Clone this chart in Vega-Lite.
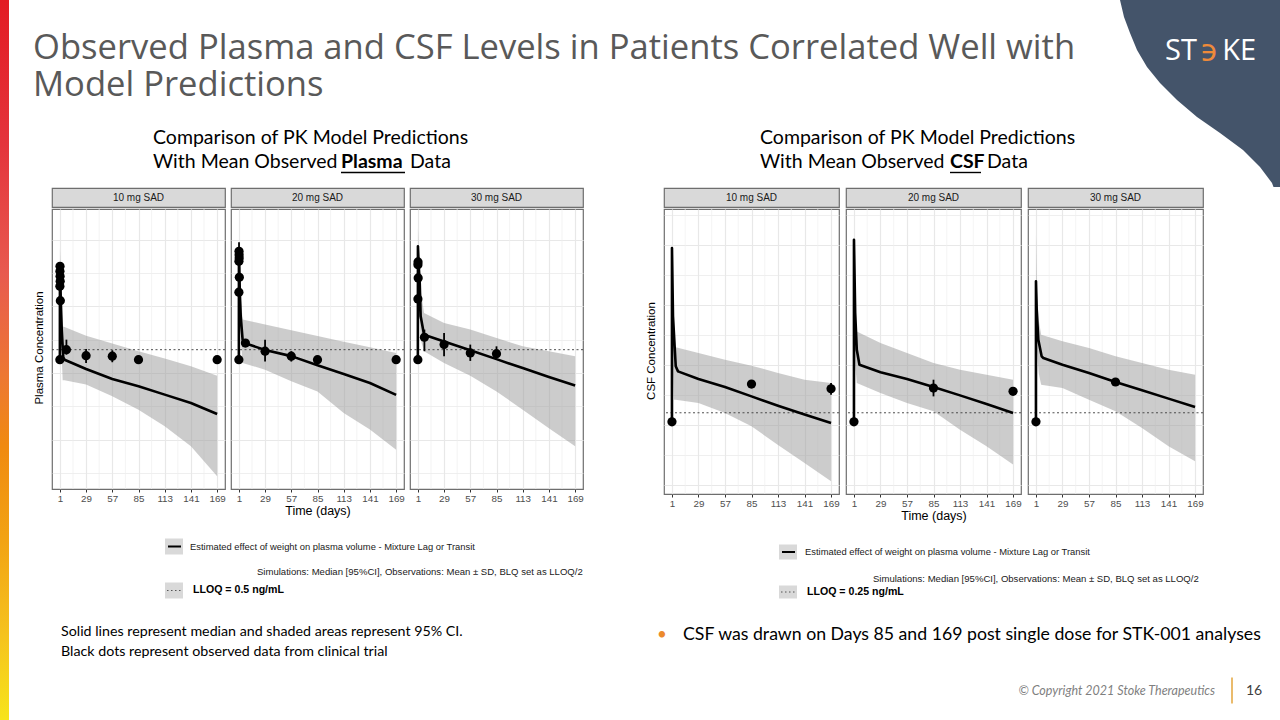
{
"$schema": "https://vega.github.io/schema/vega-lite/v6.json",
"padding": 0,
"background": "white",
"spacing": 0,
"config": {
  "view": {"stroke": null},
  "font": "Liberation Sans",
  "axis": {"labelFont": "Liberation Sans", "titleFont": "Liberation Sans", "titleFontWeight": "normal", "titleColor": "#000000", "labelColor": "#4d4d4d", "labelFontSize": 9.8, "titleFontSize": 12.5, "domain": false, "tickColor": "#333333", "tickSize": 3, "tickWidth": 1, "gridColor": "#e8e8e8", "gridWidth": 1.2, "labelOverlap": false, "labelSeparation": -40, "labelFlush": false, "labelPadding": 1, "titlePadding": 2}
},
"datasets": {
  "xminor": [{"day": 15}, {"day": 43}, {"day": 71}, {"day": 99}, {"day": 127}, {"day": 155}],
  "pmed": [
    {"panel": "10 mg SAD", "day": 1.0, "conc": 0.25}, {"panel": "10 mg SAD", "day": 1.08, "conc": 160}, {"panel": "10 mg SAD", "day": 1.5, "conc": 60}, {"panel": "10 mg SAD", "day": 2, "conc": 15}, {"panel": "10 mg SAD", "day": 3, "conc": 2}, {"panel": "10 mg SAD", "day": 4.6, "conc": 0.3}, {"panel": "10 mg SAD", "day": 6, "conc": 0.25}, {"panel": "10 mg SAD", "day": 29, "conc": 0.132}, {"panel": "10 mg SAD", "day": 57, "conc": 0.066}, {"panel": "10 mg SAD", "day": 85, "conc": 0.04}, {"panel": "10 mg SAD", "day": 113, "conc": 0.0224}, {"panel": "10 mg SAD", "day": 141, "conc": 0.0126}, {"panel": "10 mg SAD", "day": 169, "conc": 0.0059},
    {"panel": "20 mg SAD", "day": 1.0, "conc": 0.25}, {"panel": "20 mg SAD", "day": 1.08, "conc": 450}, {"panel": "20 mg SAD", "day": 1.5, "conc": 150}, {"panel": "20 mg SAD", "day": 2, "conc": 27}, {"panel": "20 mg SAD", "day": 3, "conc": 5}, {"panel": "20 mg SAD", "day": 5, "conc": 1.0}, {"panel": "20 mg SAD", "day": 7, "conc": 0.79}, {"panel": "20 mg SAD", "day": 29, "conc": 0.49}, {"panel": "20 mg SAD", "day": 57, "conc": 0.32}, {"panel": "20 mg SAD", "day": 85, "conc": 0.17}, {"panel": "20 mg SAD", "day": 113, "conc": 0.093}, {"panel": "20 mg SAD", "day": 141, "conc": 0.05}, {"panel": "20 mg SAD", "day": 169, "conc": 0.022},
    {"panel": "30 mg SAD", "day": 1.0, "conc": 0.25}, {"panel": "30 mg SAD", "day": 1.08, "conc": 630}, {"panel": "30 mg SAD", "day": 2, "conc": 150}, {"panel": "30 mg SAD", "day": 3, "conc": 50}, {"panel": "30 mg SAD", "day": 4, "conc": 5}, {"panel": "30 mg SAD", "day": 7.6, "conc": 1.41}, {"panel": "30 mg SAD", "day": 29, "conc": 0.88}, {"panel": "30 mg SAD", "day": 57, "conc": 0.48}, {"panel": "30 mg SAD", "day": 85, "conc": 0.26}, {"panel": "30 mg SAD", "day": 113, "conc": 0.14}, {"panel": "30 mg SAD", "day": 141, "conc": 0.076}, {"panel": "30 mg SAD", "day": 169, "conc": 0.042}
  ],
  "pband": [
    {"panel": "10 mg SAD", "day": 1.0, "lo": 0.2, "hi": 0.3}, {"panel": "10 mg SAD", "day": 1.08, "lo": 30, "hi": 562}, {"panel": "10 mg SAD", "day": 2, "lo": 3, "hi": 60}, {"panel": "10 mg SAD", "day": 3, "lo": 0.3, "hi": 8}, {"panel": "10 mg SAD", "day": 4, "lo": 0.06, "hi": 2.5}, {"panel": "10 mg SAD", "day": 6, "lo": 0.06, "hi": 2.4}, {"panel": "10 mg SAD", "day": 29, "lo": 0.045, "hi": 1.32}, {"panel": "10 mg SAD", "day": 57, "lo": 0.02, "hi": 0.76}, {"panel": "10 mg SAD", "day": 85, "lo": 0.0079, "hi": 0.45}, {"panel": "10 mg SAD", "day": 113, "lo": 0.0025, "hi": 0.27}, {"panel": "10 mg SAD", "day": 141, "lo": 0.00063, "hi": 0.16}, {"panel": "10 mg SAD", "day": 169, "lo": 0.000079, "hi": 0.083},
    {"panel": "20 mg SAD", "day": 1.0, "lo": 0.2, "hi": 0.3}, {"panel": "20 mg SAD", "day": 1.08, "lo": 60, "hi": 900}, {"panel": "20 mg SAD", "day": 2, "lo": 8, "hi": 100}, {"panel": "20 mg SAD", "day": 3, "lo": 1, "hi": 20}, {"panel": "20 mg SAD", "day": 5, "lo": 0.2, "hi": 4.0}, {"panel": "20 mg SAD", "day": 29, "lo": 0.126, "hi": 2.84}, {"panel": "20 mg SAD", "day": 57, "lo": 0.056, "hi": 1.91}, {"panel": "20 mg SAD", "day": 85, "lo": 0.028, "hi": 1.29}, {"panel": "20 mg SAD", "day": 113, "lo": 0.0063, "hi": 0.87}, {"panel": "20 mg SAD", "day": 141, "lo": 0.002, "hi": 0.59}, {"panel": "20 mg SAD", "day": 169, "lo": 0.0005, "hi": 0.4},
    {"panel": "30 mg SAD", "day": 1.0, "lo": 0.2, "hi": 0.3}, {"panel": "30 mg SAD", "day": 1.08, "lo": 100, "hi": 2240}, {"panel": "30 mg SAD", "day": 2, "lo": 15, "hi": 300}, {"panel": "30 mg SAD", "day": 4, "lo": 1, "hi": 30}, {"panel": "30 mg SAD", "day": 7.6, "lo": 0.45, "hi": 6.3}, {"panel": "30 mg SAD", "day": 29, "lo": 0.2, "hi": 3.16}, {"panel": "30 mg SAD", "day": 57, "lo": 0.083, "hi": 2.0}, {"panel": "30 mg SAD", "day": 85, "lo": 0.028, "hi": 1.12}, {"panel": "30 mg SAD", "day": 113, "lo": 0.0079, "hi": 0.63}, {"panel": "30 mg SAD", "day": 141, "lo": 0.0022, "hi": 0.45}, {"panel": "30 mg SAD", "day": 169, "lo": 0.00063, "hi": 0.32}
  ],
  "pobs": [
    {"panel": "10 mg SAD", "day": 1.0, "conc": 0.25}, {"panel": "10 mg SAD", "day": 1.04, "conc": 40}, {"panel": "10 mg SAD", "day": 1.08, "conc": 112}, {"panel": "10 mg SAD", "day": 1.17, "conc": 159}, {"panel": "10 mg SAD", "day": 1.25, "conc": 79.7}, {"panel": "10 mg SAD", "day": 1.33, "conc": 56.4}, {"panel": "10 mg SAD", "day": 1.5, "conc": 14.8}, {"panel": "10 mg SAD", "day": 8, "conc": 0.5, "lo": 0.355, "hi": 1.0}, {"panel": "10 mg SAD", "day": 29, "conc": 0.33, "lo": 0.2, "hi": 0.526}, {"panel": "10 mg SAD", "day": 57, "conc": 0.32, "lo": 0.21, "hi": 0.48}, {"panel": "10 mg SAD", "day": 85, "conc": 0.25}, {"panel": "10 mg SAD", "day": 169, "conc": 0.25},
    {"panel": "20 mg SAD", "day": 1.0, "conc": 0.25}, {"panel": "20 mg SAD", "day": 1.04, "conc": 26.5}, {"panel": "20 mg SAD", "day": 1.08, "conc": 224}, {"panel": "20 mg SAD", "day": 1.17, "conc": 447, "lo": 240, "hi": 840}, {"panel": "20 mg SAD", "day": 1.25, "conc": 355}, {"panel": "20 mg SAD", "day": 1.33, "conc": 282}, {"panel": "20 mg SAD", "day": 1.5, "conc": 74}, {"panel": "20 mg SAD", "day": 8, "conc": 0.79}, {"panel": "20 mg SAD", "day": 29, "conc": 0.45, "lo": 0.22, "hi": 1.0}, {"panel": "20 mg SAD", "day": 57, "conc": 0.32, "lo": 0.22, "hi": 0.45}, {"panel": "20 mg SAD", "day": 85, "conc": 0.25}, {"panel": "20 mg SAD", "day": 169, "conc": 0.25},
    {"panel": "30 mg SAD", "day": 1.0, "conc": 0.25}, {"panel": "30 mg SAD", "day": 1.04, "conc": 16.6}, {"panel": "30 mg SAD", "day": 1.08, "conc": 178}, {"panel": "30 mg SAD", "day": 1.17, "conc": 215, "lo": 60, "hi": 631}, {"panel": "30 mg SAD", "day": 1.33, "conc": 71}, {"panel": "30 mg SAD", "day": 8, "conc": 1.18, "lo": 0.45, "hi": 2.0}, {"panel": "30 mg SAD", "day": 29, "conc": 0.71, "lo": 0.32, "hi": 1.59}, {"panel": "30 mg SAD", "day": 57, "conc": 0.4, "lo": 0.23, "hi": 0.71}, {"panel": "30 mg SAD", "day": 85, "conc": 0.38, "lo": 0.28, "hi": 0.63}
  ],
  "cmed": [
    {"panel": "10 mg SAD", "day": 1.0, "conc": 0.125}, {"panel": "10 mg SAD", "day": 1.02, "conc": 77600}, {"panel": "10 mg SAD", "day": 2.1, "conc": 410}, {"panel": "10 mg SAD", "day": 5, "conc": 8.9}, {"panel": "10 mg SAD", "day": 7.4, "conc": 6.0}, {"panel": "10 mg SAD", "day": 29, "conc": 3.33}, {"panel": "10 mg SAD", "day": 57, "conc": 1.8}, {"panel": "10 mg SAD", "day": 85, "conc": 0.88}, {"panel": "10 mg SAD", "day": 113, "conc": 0.43}, {"panel": "10 mg SAD", "day": 141, "conc": 0.22}, {"panel": "10 mg SAD", "day": 169, "conc": 0.114},
    {"panel": "20 mg SAD", "day": 1.0, "conc": 0.125}, {"panel": "20 mg SAD", "day": 1.02, "conc": 147000}, {"panel": "20 mg SAD", "day": 2.3, "conc": 525}, {"panel": "20 mg SAD", "day": 4, "conc": 31.6}, {"panel": "20 mg SAD", "day": 6.8, "conc": 10}, {"panel": "20 mg SAD", "day": 29, "conc": 5.6}, {"panel": "20 mg SAD", "day": 57, "conc": 3.33}, {"panel": "20 mg SAD", "day": 85, "conc": 1.8}, {"panel": "20 mg SAD", "day": 113, "conc": 0.95}, {"panel": "20 mg SAD", "day": 141, "conc": 0.49}, {"panel": "20 mg SAD", "day": 169, "conc": 0.245},
    {"panel": "30 mg SAD", "day": 1.0, "conc": 0.125}, {"panel": "30 mg SAD", "day": 1.02, "conc": 6000}, {"panel": "30 mg SAD", "day": 1.8, "conc": 680}, {"panel": "30 mg SAD", "day": 3.5, "conc": 68}, {"panel": "30 mg SAD", "day": 7, "conc": 19}, {"panel": "30 mg SAD", "day": 8.8, "conc": 16.7}, {"panel": "30 mg SAD", "day": 29, "conc": 10}, {"panel": "30 mg SAD", "day": 57, "conc": 5.3}, {"panel": "30 mg SAD", "day": 85, "conc": 2.65}, {"panel": "30 mg SAD", "day": 113, "conc": 1.4}, {"panel": "30 mg SAD", "day": 141, "conc": 0.74}, {"panel": "30 mg SAD", "day": 169, "conc": 0.39}
  ],
  "cband": [
    {"panel": "10 mg SAD", "day": 1.0, "lo": 0.12, "hi": 0.13}, {"panel": "10 mg SAD", "day": 1.3, "lo": 50, "hi": 500}, {"panel": "10 mg SAD", "day": 2.1, "lo": 5, "hi": 100}, {"panel": "10 mg SAD", "day": 3.2, "lo": 0.68, "hi": 41}, {"panel": "10 mg SAD", "day": 5, "lo": 0.68, "hi": 38}, {"panel": "10 mg SAD", "day": 29, "lo": 0.53, "hi": 24.5}, {"panel": "10 mg SAD", "day": 57, "lo": 0.245, "hi": 14.7}, {"panel": "10 mg SAD", "day": 85, "lo": 0.089, "hi": 9.3}, {"panel": "10 mg SAD", "day": 113, "lo": 0.021, "hi": 5.3}, {"panel": "10 mg SAD", "day": 141, "lo": 0.0053, "hi": 3.16}, {"panel": "10 mg SAD", "day": 169, "lo": 0.0013, "hi": 2.45},
    {"panel": "20 mg SAD", "day": 1.0, "lo": 0.12, "hi": 0.13}, {"panel": "20 mg SAD", "day": 1.3, "lo": 200, "hi": 2000}, {"panel": "20 mg SAD", "day": 2.3, "lo": 10, "hi": 400}, {"panel": "20 mg SAD", "day": 4, "lo": 2.45, "hi": 129}, {"panel": "20 mg SAD", "day": 29, "lo": 1.14, "hi": 53}, {"panel": "20 mg SAD", "day": 57, "lo": 0.53, "hi": 24.5}, {"panel": "20 mg SAD", "day": 85, "lo": 0.28, "hi": 11.4}, {"panel": "20 mg SAD", "day": 113, "lo": 0.068, "hi": 6.8}, {"panel": "20 mg SAD", "day": 141, "lo": 0.019, "hi": 4.6}, {"panel": "20 mg SAD", "day": 169, "lo": 0.0047, "hi": 3.16},
    {"panel": "30 mg SAD", "day": 1.0, "lo": 0.12, "hi": 0.13}, {"panel": "30 mg SAD", "day": 1.02, "lo": 300, "hi": 214000}, {"panel": "30 mg SAD", "day": 2, "lo": 30, "hi": 3000}, {"panel": "30 mg SAD", "day": 4, "lo": 5, "hi": 300}, {"panel": "30 mg SAD", "day": 6.5, "lo": 2.15, "hi": 100}, {"panel": "30 mg SAD", "day": 29, "lo": 1.67, "hi": 60}, {"panel": "30 mg SAD", "day": 57, "lo": 0.68, "hi": 36}, {"panel": "30 mg SAD", "day": 85, "lo": 0.28, "hi": 19}, {"panel": "30 mg SAD", "day": 113, "lo": 0.078, "hi": 11.4}, {"panel": "30 mg SAD", "day": 141, "lo": 0.019, "hi": 6.8}, {"panel": "30 mg SAD", "day": 169, "lo": 0.006, "hi": 4.6}
  ],
  "cobs": [
    {"panel": "10 mg SAD", "day": 1.0, "conc": 0.125}, {"panel": "10 mg SAD", "day": 85, "conc": 2.27}, {"panel": "10 mg SAD", "day": 169, "conc": 1.58, "lo": 1.0, "hi": 2.45},
    {"panel": "20 mg SAD", "day": 1.0, "conc": 0.125}, {"panel": "20 mg SAD", "day": 85, "conc": 1.67, "lo": 0.88, "hi": 3.16}, {"panel": "20 mg SAD", "day": 169, "conc": 1.3},
    {"panel": "30 mg SAD", "day": 1.0, "conc": 0.125}, {"panel": "30 mg SAD", "day": 85, "conc": 2.65}
  ]
},
"hconcat": [
  {
    "width": 9, "height": 720,
    "data": {"values": [{"part": "accent bar"}]},
    "mark": {"type": "rect", "color": {"gradient": "linear", "x1": 0, "y1": 0, "x2": 0, "y2": 1, "stops": [{"offset": 0, "color": "#e31b23"}, {"offset": 0.2, "color": "#e4343c"}, {"offset": 0.38, "color": "#e85a4f"}, {"offset": 0.52, "color": "#ed7733"}, {"offset": 0.62, "color": "#f08a10"}, {"offset": 0.75, "color": "#f2a313"}, {"offset": 0.88, "color": "#f5c21e"}, {"offset": 1, "color": "#f7e41b"}]}},
    "encoding": {
      "x": {"datum": 0, "type": "quantitative", "scale": {"domain": [0, 1], "nice": false, "zero": false}, "axis": null},
      "x2": {"datum": 1},
      "y": {"datum": 0, "type": "quantitative", "scale": {"domain": [0, 1], "nice": false, "zero": false}, "axis": null},
      "y2": {"datum": 1}
    }
  },
  {
    "spacing": 0,
    "vconcat": [
      {
        "width": 1271, "height": 187,
        "data": {"values": [{"part": "header"}]},
        "layer": [
          {"mark": {"type": "point", "shape": "M-0.8,-1 L0.8,-1 L0.8,0.87 L0.735,0.87 L0.72,0.83 L0.6,0.67 L0.43,0.5 L0.2,0.33 L-0.03,0.17 L-0.23,0 L-0.4,-0.17 L-0.53,-0.33 L-0.63,-0.5 L-0.7,-0.67 L-0.76,-0.83 Z", "size": 40000, "filled": true, "color": "#44546a", "opacity": 1, "strokeWidth": 0},
           "encoding": {"x": {"datum": 1200, "type": "quantitative", "scale": {"domain": [9, 1280], "nice": false, "zero": false}, "axis": null}, "y": {"datum": 100, "type": "quantitative", "scale": {"domain": [187, 0], "nice": false, "zero": false}, "axis": null}}},
          {"mark": {"type": "text", "align": "left", "baseline": "alphabetic", "font": "Open Sans", "fontSize": 29, "color": "white"},
           "encoding": {"x": {"datum": 1165, "type": "quantitative", "scale": {"domain": [9, 1280], "nice": false, "zero": false}, "axis": null}, "y": {"datum": 60, "type": "quantitative", "scale": {"domain": [187, 0], "nice": false, "zero": false}, "axis": null}, "text": {"value": "ST"}}},
          {"mark": {"type": "text", "align": "center", "baseline": "alphabetic", "font": "DejaVu Sans", "fontSize": 30, "color": "#ee8a3a"},
           "encoding": {"x": {"datum": 1209, "type": "quantitative", "scale": {"domain": [9, 1280], "nice": false, "zero": false}, "axis": null}, "y": {"datum": 61, "type": "quantitative", "scale": {"domain": [187, 0], "nice": false, "zero": false}, "axis": null}, "text": {"value": "϶"}}},
          {"mark": {"type": "text", "align": "right", "baseline": "alphabetic", "font": "Open Sans", "fontSize": 29, "color": "white"},
           "encoding": {"x": {"datum": 1256, "type": "quantitative", "scale": {"domain": [9, 1280], "nice": false, "zero": false}, "axis": null}, "y": {"datum": 60, "type": "quantitative", "scale": {"domain": [187, 0], "nice": false, "zero": false}, "axis": null}, "text": {"value": "KE"}}},
          {"mark": {"type": "text", "align": "left", "baseline": "alphabetic", "font": "Open Sans", "fontSize": 34.6, "color": "#595959"},
           "encoding": {"x": {"datum": 33, "type": "quantitative", "scale": {"domain": [9, 1280], "nice": false, "zero": false}, "axis": null}, "y": {"datum": 59, "type": "quantitative", "scale": {"domain": [187, 0], "nice": false, "zero": false}, "axis": null}, "text": {"value": "Observed Plasma and CSF Levels in Patients Correlated Well with"}}},
          {"mark": {"type": "text", "align": "left", "baseline": "alphabetic", "font": "Open Sans", "fontSize": 34.6, "color": "#595959"},
           "encoding": {"x": {"datum": 33, "type": "quantitative", "scale": {"domain": [9, 1280], "nice": false, "zero": false}, "axis": null}, "y": {"datum": 96, "type": "quantitative", "scale": {"domain": [187, 0], "nice": false, "zero": false}, "axis": null}, "text": {"value": "Model Predictions"}}},
          {"mark": {"type": "text", "align": "left", "baseline": "middle", "font": "Lato", "fontSize": 19.5, "color": "#000000"},
           "encoding": {"x": {"datum": 153, "type": "quantitative", "scale": {"domain": [9, 1280], "nice": false, "zero": false}, "axis": null}, "y": {"datum": 138, "type": "quantitative", "scale": {"domain": [187, 0], "nice": false, "zero": false}, "axis": null}, "text": {"value": "Comparison of PK Model Predictions"}}},
          {"mark": {"type": "text", "align": "left", "baseline": "middle", "font": "Lato", "fontSize": 19.5, "color": "#000000"},
           "encoding": {"x": {"datum": 153, "type": "quantitative", "scale": {"domain": [9, 1280], "nice": false, "zero": false}, "axis": null}, "y": {"datum": 162, "type": "quantitative", "scale": {"domain": [187, 0], "nice": false, "zero": false}, "axis": null}, "text": {"value": "With Mean Observed"}}},
          {"mark": {"type": "text", "align": "left", "baseline": "middle", "font": "Lato", "fontSize": 19.5, "fontWeight": "bold", "color": "#000000"},
           "encoding": {"x": {"datum": 341, "type": "quantitative", "scale": {"domain": [9, 1280], "nice": false, "zero": false}, "axis": null}, "y": {"datum": 162, "type": "quantitative", "scale": {"domain": [187, 0], "nice": false, "zero": false}, "axis": null}, "text": {"value": "Plasma"}}},
          {"mark": {"type": "text", "align": "left", "baseline": "middle", "font": "Lato", "fontSize": 19.5, "color": "#000000"},
           "encoding": {"x": {"datum": 410, "type": "quantitative", "scale": {"domain": [9, 1280], "nice": false, "zero": false}, "axis": null}, "y": {"datum": 162, "type": "quantitative", "scale": {"domain": [187, 0], "nice": false, "zero": false}, "axis": null}, "text": {"value": "Data"}}},
          {"mark": {"type": "rule", "color": "#000000", "strokeWidth": 1.4},
           "encoding": {"x": {"datum": 341, "type": "quantitative", "scale": {"domain": [9, 1280], "nice": false, "zero": false}, "axis": null}, "x2": {"datum": 405}, "y": {"datum": 172.5, "type": "quantitative", "scale": {"domain": [187, 0], "nice": false, "zero": false}, "axis": null}}},
          {"mark": {"type": "text", "align": "left", "baseline": "middle", "font": "Lato", "fontSize": 19.5, "color": "#000000"},
           "encoding": {"x": {"datum": 760, "type": "quantitative", "scale": {"domain": [9, 1280], "nice": false, "zero": false}, "axis": null}, "y": {"datum": 138, "type": "quantitative", "scale": {"domain": [187, 0], "nice": false, "zero": false}, "axis": null}, "text": {"value": "Comparison of PK Model Predictions"}}},
          {"mark": {"type": "text", "align": "left", "baseline": "middle", "font": "Lato", "fontSize": 19.5, "color": "#000000"},
           "encoding": {"x": {"datum": 760, "type": "quantitative", "scale": {"domain": [9, 1280], "nice": false, "zero": false}, "axis": null}, "y": {"datum": 162, "type": "quantitative", "scale": {"domain": [187, 0], "nice": false, "zero": false}, "axis": null}, "text": {"value": "With Mean Observed"}}},
          {"mark": {"type": "text", "align": "left", "baseline": "middle", "font": "Lato", "fontSize": 19.5, "fontWeight": "bold", "color": "#000000"},
           "encoding": {"x": {"datum": 950, "type": "quantitative", "scale": {"domain": [9, 1280], "nice": false, "zero": false}, "axis": null}, "y": {"datum": 162, "type": "quantitative", "scale": {"domain": [187, 0], "nice": false, "zero": false}, "axis": null}, "text": {"value": "CSF"}}},
          {"mark": {"type": "text", "align": "left", "baseline": "middle", "font": "Lato", "fontSize": 19.5, "color": "#000000"},
           "encoding": {"x": {"datum": 987, "type": "quantitative", "scale": {"domain": [9, 1280], "nice": false, "zero": false}, "axis": null}, "y": {"datum": 162, "type": "quantitative", "scale": {"domain": [187, 0], "nice": false, "zero": false}, "axis": null}, "text": {"value": "Data"}}},
          {"mark": {"type": "rule", "color": "#000000", "strokeWidth": 1.4},
           "encoding": {"x": {"datum": 950, "type": "quantitative", "scale": {"domain": [9, 1280], "nice": false, "zero": false}, "axis": null}, "x2": {"datum": 981}, "y": {"datum": 172.5, "type": "quantitative", "scale": {"domain": [187, 0], "nice": false, "zero": false}, "axis": null}}}
        ]
      },
      {
        "spacing": 0,
        "hconcat": [
          {"width": 41, "height": 304, "data": {"values": [{"part": "y title"}]}, "mark": {"type": "text", "angle": 270, "align": "center", "baseline": "middle", "font": "Liberation Sans", "fontSize": 11.5, "color": "#000000"},
           "encoding": {"x": {"datum": 40, "type": "quantitative", "scale": {"domain": [9, 50], "nice": false, "zero": false}, "axis": null}, "y": {"datum": 347, "type": "quantitative", "scale": {"domain": [491, 187], "nice": false, "zero": false}, "axis": null}, "text": {"value": "Plasma Concentration"}}},
          {
            "spacing": 2,
            "hconcat": [
              {"spacing": 0, "vconcat": [
                {"width": 173, "height": 19, "view": {"fill": "#d9d9d9", "stroke": "#6e6e6e", "strokeWidth": 1.2}, "data": {"values": [{"label": "10 mg SAD"}]}, "mark": {"type": "text", "font": "Liberation Sans", "fontSize": 10, "color": "#1a1a1a"}, "encoding": {"text": {"field": "label"}}},
                {"width": 173, "height": 280, "view": {"stroke": "#6e6e6e", "strokeWidth": 1.2},
                 "layer": [
                  {"data": {"name": "xminor"}, "mark": {"type": "rule", "color": "#efefef", "strokeWidth": 0.7}, "encoding": {"x": {"field": "day", "type": "quantitative", "title": null, "scale": {"domain": [-7.4, 177.4], "nice": false, "zero": false}, "axis": {"values": [1, 29, 57, 85, 113, 141, 169], "labelOverlap": false, "labelSeparation": -40}}}},
                  {"data": {"name": "pband"}, "transform": [{"filter": "datum.panel === '10 mg SAD'"}], "mark": {"type": "area", "color": "#9a9a9a", "opacity": 0.5},
                   "encoding": {"x": {"field": "day", "type": "quantitative", "title": null, "axis": {"values": [1, 29, 57, 85, 113, 141, 169], "labelOverlap": false, "labelSeparation": -40}},
                    "y": {"field": "lo", "type": "quantitative", "title": null, "scale": {"type": "log", "domain": [0.000033, 8318], "nice": false}, "axis": {"values": [0.0001, 0.001, 0.01, 0.1, 1, 10, 100, 1000], "labels": false, "ticks": false, "gridWidth": {"condition": {"test": "indexof([0.001,0.1,10,1000], datum.value) >= 0", "value": 1.2}, "value": 0.7}}},
                    "y2": {"field": "hi"}}},
                  {"data": {"values": [{"lloq": 0.5}]}, "mark": {"type": "rule", "strokeDash": [2, 2.5], "color": "#3a3a3a", "strokeWidth": 0.9}, "encoding": {"y": {"field": "lloq", "type": "quantitative", "title": null}}},
                  {"data": {"name": "pmed"}, "transform": [{"filter": "datum.panel === '10 mg SAD'"}], "mark": {"type": "line", "color": "#000000", "strokeWidth": 2.6, "strokeJoin": "round"}, "encoding": {"x": {"field": "day", "type": "quantitative", "title": null, "axis": {"values": [1, 29, 57, 85, 113, 141, 169], "labelOverlap": false, "labelSeparation": -40}}, "y": {"field": "conc", "type": "quantitative", "title": null}}},
                  {"data": {"name": "pobs"}, "transform": [{"filter": "datum.panel === '10 mg SAD' && isValid(datum.lo)"}], "mark": {"type": "rule", "color": "#000000", "strokeWidth": 1.8}, "encoding": {"x": {"field": "day", "type": "quantitative", "title": null, "axis": {"values": [1, 29, 57, 85, 113, 141, 169], "labelOverlap": false, "labelSeparation": -40}}, "y": {"field": "lo", "type": "quantitative", "title": null}, "y2": {"field": "hi"}}},
                  {"data": {"name": "pobs"}, "transform": [{"filter": "datum.panel === '10 mg SAD'"}], "mark": {"type": "point", "filled": true, "color": "#000000", "size": 85, "opacity": 1}, "encoding": {"x": {"field": "day", "type": "quantitative", "title": null, "axis": {"values": [1, 29, 57, 85, 113, 141, 169], "labelOverlap": false, "labelSeparation": -40}}, "y": {"field": "conc", "type": "quantitative", "title": null}}}
                 ]}
              ]},
              {"spacing": 0, "vconcat": [
                {"width": 173, "height": 19, "view": {"fill": "#d9d9d9", "stroke": "#6e6e6e", "strokeWidth": 1.2}, "data": {"values": [{"label": "20 mg SAD"}]}, "mark": {"type": "text", "font": "Liberation Sans", "fontSize": 10, "color": "#1a1a1a"}, "encoding": {"text": {"field": "label"}}},
                {"width": 173, "height": 280, "view": {"stroke": "#6e6e6e", "strokeWidth": 1.2},
                 "layer": [
                  {"data": {"name": "xminor"}, "mark": {"type": "rule", "color": "#efefef", "strokeWidth": 0.7}, "encoding": {"x": {"field": "day", "type": "quantitative", "title": "Time (days)", "scale": {"domain": [-7.4, 177.4], "nice": false, "zero": false}, "axis": {"values": [1, 29, 57, 85, 113, 141, 169], "labelOverlap": false, "labelSeparation": -40}}}},
                  {"data": {"name": "pband"}, "transform": [{"filter": "datum.panel === '20 mg SAD'"}], "mark": {"type": "area", "color": "#9a9a9a", "opacity": 0.5},
                   "encoding": {"x": {"field": "day", "type": "quantitative", "title": "Time (days)", "axis": {"values": [1, 29, 57, 85, 113, 141, 169], "labelOverlap": false, "labelSeparation": -40}},
                    "y": {"field": "lo", "type": "quantitative", "title": null, "scale": {"type": "log", "domain": [0.000033, 8318], "nice": false}, "axis": {"values": [0.0001, 0.001, 0.01, 0.1, 1, 10, 100, 1000], "labels": false, "ticks": false, "gridWidth": {"condition": {"test": "indexof([0.001,0.1,10,1000], datum.value) >= 0", "value": 1.2}, "value": 0.7}}},
                    "y2": {"field": "hi"}}},
                  {"data": {"values": [{"lloq": 0.5}]}, "mark": {"type": "rule", "strokeDash": [2, 2.5], "color": "#3a3a3a", "strokeWidth": 0.9}, "encoding": {"y": {"field": "lloq", "type": "quantitative", "title": null}}},
                  {"data": {"name": "pmed"}, "transform": [{"filter": "datum.panel === '20 mg SAD'"}], "mark": {"type": "line", "color": "#000000", "strokeWidth": 2.6, "strokeJoin": "round"}, "encoding": {"x": {"field": "day", "type": "quantitative", "title": "Time (days)", "axis": {"values": [1, 29, 57, 85, 113, 141, 169], "labelOverlap": false, "labelSeparation": -40}}, "y": {"field": "conc", "type": "quantitative", "title": null}}},
                  {"data": {"name": "pobs"}, "transform": [{"filter": "datum.panel === '20 mg SAD' && isValid(datum.lo)"}], "mark": {"type": "rule", "color": "#000000", "strokeWidth": 1.8}, "encoding": {"x": {"field": "day", "type": "quantitative", "title": "Time (days)", "axis": {"values": [1, 29, 57, 85, 113, 141, 169], "labelOverlap": false, "labelSeparation": -40}}, "y": {"field": "lo", "type": "quantitative", "title": null}, "y2": {"field": "hi"}}},
                  {"data": {"name": "pobs"}, "transform": [{"filter": "datum.panel === '20 mg SAD'"}], "mark": {"type": "point", "filled": true, "color": "#000000", "size": 85, "opacity": 1}, "encoding": {"x": {"field": "day", "type": "quantitative", "title": "Time (days)", "axis": {"values": [1, 29, 57, 85, 113, 141, 169], "labelOverlap": false, "labelSeparation": -40}}, "y": {"field": "conc", "type": "quantitative", "title": null}}}
                 ]}
              ]},
              {"spacing": 0, "vconcat": [
                {"width": 173, "height": 19, "view": {"fill": "#d9d9d9", "stroke": "#6e6e6e", "strokeWidth": 1.2}, "data": {"values": [{"label": "30 mg SAD"}]}, "mark": {"type": "text", "font": "Liberation Sans", "fontSize": 10, "color": "#1a1a1a"}, "encoding": {"text": {"field": "label"}}},
                {"width": 173, "height": 280, "view": {"stroke": "#6e6e6e", "strokeWidth": 1.2},
                 "layer": [
                  {"data": {"name": "xminor"}, "mark": {"type": "rule", "color": "#efefef", "strokeWidth": 0.7}, "encoding": {"x": {"field": "day", "type": "quantitative", "title": null, "scale": {"domain": [-7.4, 177.4], "nice": false, "zero": false}, "axis": {"values": [1, 29, 57, 85, 113, 141, 169], "labelOverlap": false, "labelSeparation": -40}}}},
                  {"data": {"name": "pband"}, "transform": [{"filter": "datum.panel === '30 mg SAD'"}], "mark": {"type": "area", "color": "#9a9a9a", "opacity": 0.5},
                   "encoding": {"x": {"field": "day", "type": "quantitative", "title": null, "axis": {"values": [1, 29, 57, 85, 113, 141, 169], "labelOverlap": false, "labelSeparation": -40}},
                    "y": {"field": "lo", "type": "quantitative", "title": null, "scale": {"type": "log", "domain": [0.000033, 8318], "nice": false}, "axis": {"values": [0.0001, 0.001, 0.01, 0.1, 1, 10, 100, 1000], "labels": false, "ticks": false, "gridWidth": {"condition": {"test": "indexof([0.001,0.1,10,1000], datum.value) >= 0", "value": 1.2}, "value": 0.7}}},
                    "y2": {"field": "hi"}}},
                  {"data": {"values": [{"lloq": 0.5}]}, "mark": {"type": "rule", "strokeDash": [2, 2.5], "color": "#3a3a3a", "strokeWidth": 0.9}, "encoding": {"y": {"field": "lloq", "type": "quantitative", "title": null}}},
                  {"data": {"name": "pmed"}, "transform": [{"filter": "datum.panel === '30 mg SAD'"}], "mark": {"type": "line", "color": "#000000", "strokeWidth": 2.6, "strokeJoin": "round"}, "encoding": {"x": {"field": "day", "type": "quantitative", "title": null, "axis": {"values": [1, 29, 57, 85, 113, 141, 169], "labelOverlap": false, "labelSeparation": -40}}, "y": {"field": "conc", "type": "quantitative", "title": null}}},
                  {"data": {"name": "pobs"}, "transform": [{"filter": "datum.panel === '30 mg SAD' && isValid(datum.lo)"}], "mark": {"type": "rule", "color": "#000000", "strokeWidth": 1.8}, "encoding": {"x": {"field": "day", "type": "quantitative", "title": null, "axis": {"values": [1, 29, 57, 85, 113, 141, 169], "labelOverlap": false, "labelSeparation": -40}}, "y": {"field": "lo", "type": "quantitative", "title": null}, "y2": {"field": "hi"}}},
                  {"data": {"name": "pobs"}, "transform": [{"filter": "datum.panel === '30 mg SAD'"}], "mark": {"type": "point", "filled": true, "color": "#000000", "size": 85, "opacity": 1}, "encoding": {"x": {"field": "day", "type": "quantitative", "title": null, "axis": {"values": [1, 29, 57, 85, 113, 141, 169], "labelOverlap": false, "labelSeparation": -40}}, "y": {"field": "conc", "type": "quantitative", "title": null}}}
                 ]}
              ]}
            ]
          },
          {"width": 77, "height": 304, "data": {"values": [{"part": "y title"}]}, "mark": {"type": "text", "angle": 270, "align": "center", "baseline": "middle", "font": "Liberation Sans", "fontSize": 11.5, "color": "#000000"},
           "encoding": {"x": {"datum": 652, "type": "quantitative", "scale": {"domain": [585, 662], "nice": false, "zero": false}, "axis": null}, "y": {"datum": 350, "type": "quantitative", "scale": {"domain": [491, 187], "nice": false, "zero": false}, "axis": null}, "text": {"value": "CSF Concentration"}}},
          {
            "spacing": 3,
            "hconcat": [
              {"spacing": 0, "vconcat": [
                {"width": 175, "height": 19, "view": {"fill": "#d9d9d9", "stroke": "#6e6e6e", "strokeWidth": 1.2}, "data": {"values": [{"label": "10 mg SAD"}]}, "mark": {"type": "text", "font": "Liberation Sans", "fontSize": 10, "color": "#1a1a1a"}, "encoding": {"text": {"field": "label"}}},
                {"width": 175, "height": 285, "view": {"stroke": "#6e6e6e", "strokeWidth": 1.2},
                 "layer": [
                  {"data": {"name": "xminor"}, "mark": {"type": "rule", "color": "#efefef", "strokeWidth": 0.7}, "encoding": {"x": {"field": "day", "type": "quantitative", "title": null, "scale": {"domain": [-7.4, 177.4], "nice": false, "zero": false}, "axis": {"values": [1, 29, 57, 85, 113, 141, 169], "labelOverlap": false, "labelSeparation": -40}}}},
                  {"data": {"name": "cband"}, "transform": [{"filter": "datum.panel === '10 mg SAD'"}], "mark": {"type": "area", "color": "#9a9a9a", "opacity": 0.5},
                   "encoding": {"x": {"field": "day", "type": "quantitative", "title": null, "axis": {"values": [1, 29, 57, 85, 113, 141, 169], "labelOverlap": false, "labelSeparation": -40}},
                    "y": {"field": "lo", "type": "quantitative", "title": null, "scale": {"type": "log", "domain": [0.00049, 1550000], "nice": false}, "axis": {"values": [0.001, 0.01, 0.1, 1, 10, 100, 1000, 10000, 100000, 1000000], "labels": false, "ticks": false, "gridWidth": {"condition": {"test": "indexof([0.001,0.1,10,1000,100000], datum.value) >= 0", "value": 1.2}, "value": 0.7}}},
                    "y2": {"field": "hi"}}},
                  {"data": {"values": [{"lloq": 0.25}]}, "mark": {"type": "rule", "strokeDash": [2, 2.5], "color": "#3a3a3a", "strokeWidth": 0.9}, "encoding": {"y": {"field": "lloq", "type": "quantitative", "title": null}}},
                  {"data": {"name": "cmed"}, "transform": [{"filter": "datum.panel === '10 mg SAD'"}], "mark": {"type": "line", "color": "#000000", "strokeWidth": 2.6, "strokeJoin": "round"}, "encoding": {"x": {"field": "day", "type": "quantitative", "title": null, "axis": {"values": [1, 29, 57, 85, 113, 141, 169], "labelOverlap": false, "labelSeparation": -40}}, "y": {"field": "conc", "type": "quantitative", "title": null}}},
                  {"data": {"name": "cobs"}, "transform": [{"filter": "datum.panel === '10 mg SAD' && isValid(datum.lo)"}], "mark": {"type": "rule", "color": "#000000", "strokeWidth": 1.8}, "encoding": {"x": {"field": "day", "type": "quantitative", "title": null, "axis": {"values": [1, 29, 57, 85, 113, 141, 169], "labelOverlap": false, "labelSeparation": -40}}, "y": {"field": "lo", "type": "quantitative", "title": null}, "y2": {"field": "hi"}}},
                  {"data": {"name": "cobs"}, "transform": [{"filter": "datum.panel === '10 mg SAD'"}], "mark": {"type": "point", "filled": true, "color": "#000000", "size": 85, "opacity": 1}, "encoding": {"x": {"field": "day", "type": "quantitative", "title": null, "axis": {"values": [1, 29, 57, 85, 113, 141, 169], "labelOverlap": false, "labelSeparation": -40}}, "y": {"field": "conc", "type": "quantitative", "title": null}}}
                 ]}
              ]},
              {"spacing": 0, "vconcat": [
                {"width": 175, "height": 19, "view": {"fill": "#d9d9d9", "stroke": "#6e6e6e", "strokeWidth": 1.2}, "data": {"values": [{"label": "20 mg SAD"}]}, "mark": {"type": "text", "font": "Liberation Sans", "fontSize": 10, "color": "#1a1a1a"}, "encoding": {"text": {"field": "label"}}},
                {"width": 175, "height": 285, "view": {"stroke": "#6e6e6e", "strokeWidth": 1.2},
                 "layer": [
                  {"data": {"name": "xminor"}, "mark": {"type": "rule", "color": "#efefef", "strokeWidth": 0.7}, "encoding": {"x": {"field": "day", "type": "quantitative", "title": "Time (days)", "scale": {"domain": [-7.4, 177.4], "nice": false, "zero": false}, "axis": {"values": [1, 29, 57, 85, 113, 141, 169], "labelOverlap": false, "labelSeparation": -40}}}},
                  {"data": {"name": "cband"}, "transform": [{"filter": "datum.panel === '20 mg SAD'"}], "mark": {"type": "area", "color": "#9a9a9a", "opacity": 0.5},
                   "encoding": {"x": {"field": "day", "type": "quantitative", "title": "Time (days)", "axis": {"values": [1, 29, 57, 85, 113, 141, 169], "labelOverlap": false, "labelSeparation": -40}},
                    "y": {"field": "lo", "type": "quantitative", "title": null, "scale": {"type": "log", "domain": [0.00049, 1550000], "nice": false}, "axis": {"values": [0.001, 0.01, 0.1, 1, 10, 100, 1000, 10000, 100000, 1000000], "labels": false, "ticks": false, "gridWidth": {"condition": {"test": "indexof([0.001,0.1,10,1000,100000], datum.value) >= 0", "value": 1.2}, "value": 0.7}}},
                    "y2": {"field": "hi"}}},
                  {"data": {"values": [{"lloq": 0.25}]}, "mark": {"type": "rule", "strokeDash": [2, 2.5], "color": "#3a3a3a", "strokeWidth": 0.9}, "encoding": {"y": {"field": "lloq", "type": "quantitative", "title": null}}},
                  {"data": {"name": "cmed"}, "transform": [{"filter": "datum.panel === '20 mg SAD'"}], "mark": {"type": "line", "color": "#000000", "strokeWidth": 2.6, "strokeJoin": "round"}, "encoding": {"x": {"field": "day", "type": "quantitative", "title": "Time (days)", "axis": {"values": [1, 29, 57, 85, 113, 141, 169], "labelOverlap": false, "labelSeparation": -40}}, "y": {"field": "conc", "type": "quantitative", "title": null}}},
                  {"data": {"name": "cobs"}, "transform": [{"filter": "datum.panel === '20 mg SAD' && isValid(datum.lo)"}], "mark": {"type": "rule", "color": "#000000", "strokeWidth": 1.8}, "encoding": {"x": {"field": "day", "type": "quantitative", "title": "Time (days)", "axis": {"values": [1, 29, 57, 85, 113, 141, 169], "labelOverlap": false, "labelSeparation": -40}}, "y": {"field": "lo", "type": "quantitative", "title": null}, "y2": {"field": "hi"}}},
                  {"data": {"name": "cobs"}, "transform": [{"filter": "datum.panel === '20 mg SAD'"}], "mark": {"type": "point", "filled": true, "color": "#000000", "size": 85, "opacity": 1}, "encoding": {"x": {"field": "day", "type": "quantitative", "title": "Time (days)", "axis": {"values": [1, 29, 57, 85, 113, 141, 169], "labelOverlap": false, "labelSeparation": -40}}, "y": {"field": "conc", "type": "quantitative", "title": null}}}
                 ]}
              ]},
              {"spacing": 0, "vconcat": [
                {"width": 175, "height": 19, "view": {"fill": "#d9d9d9", "stroke": "#6e6e6e", "strokeWidth": 1.2}, "data": {"values": [{"label": "30 mg SAD"}]}, "mark": {"type": "text", "font": "Liberation Sans", "fontSize": 10, "color": "#1a1a1a"}, "encoding": {"text": {"field": "label"}}},
                {"width": 175, "height": 285, "view": {"stroke": "#6e6e6e", "strokeWidth": 1.2},
                 "layer": [
                  {"data": {"name": "xminor"}, "mark": {"type": "rule", "color": "#efefef", "strokeWidth": 0.7}, "encoding": {"x": {"field": "day", "type": "quantitative", "title": null, "scale": {"domain": [-7.4, 177.4], "nice": false, "zero": false}, "axis": {"values": [1, 29, 57, 85, 113, 141, 169], "labelOverlap": false, "labelSeparation": -40}}}},
                  {"data": {"name": "cband"}, "transform": [{"filter": "datum.panel === '30 mg SAD'"}], "mark": {"type": "area", "color": "#9a9a9a", "opacity": 0.5},
                   "encoding": {"x": {"field": "day", "type": "quantitative", "title": null, "axis": {"values": [1, 29, 57, 85, 113, 141, 169], "labelOverlap": false, "labelSeparation": -40}},
                    "y": {"field": "lo", "type": "quantitative", "title": null, "scale": {"type": "log", "domain": [0.00049, 1550000], "nice": false}, "axis": {"values": [0.001, 0.01, 0.1, 1, 10, 100, 1000, 10000, 100000, 1000000], "labels": false, "ticks": false, "gridWidth": {"condition": {"test": "indexof([0.001,0.1,10,1000,100000], datum.value) >= 0", "value": 1.2}, "value": 0.7}}},
                    "y2": {"field": "hi"}}},
                  {"data": {"values": [{"lloq": 0.25}]}, "mark": {"type": "rule", "strokeDash": [2, 2.5], "color": "#3a3a3a", "strokeWidth": 0.9}, "encoding": {"y": {"field": "lloq", "type": "quantitative", "title": null}}},
                  {"data": {"name": "cmed"}, "transform": [{"filter": "datum.panel === '30 mg SAD'"}], "mark": {"type": "line", "color": "#000000", "strokeWidth": 2.6, "strokeJoin": "round"}, "encoding": {"x": {"field": "day", "type": "quantitative", "title": null, "axis": {"values": [1, 29, 57, 85, 113, 141, 169], "labelOverlap": false, "labelSeparation": -40}}, "y": {"field": "conc", "type": "quantitative", "title": null}}},
                  {"data": {"name": "cobs"}, "transform": [{"filter": "datum.panel === '30 mg SAD' && isValid(datum.lo)"}], "mark": {"type": "rule", "color": "#000000", "strokeWidth": 1.8}, "encoding": {"x": {"field": "day", "type": "quantitative", "title": null, "axis": {"values": [1, 29, 57, 85, 113, 141, 169], "labelOverlap": false, "labelSeparation": -40}}, "y": {"field": "lo", "type": "quantitative", "title": null}, "y2": {"field": "hi"}}},
                  {"data": {"name": "cobs"}, "transform": [{"filter": "datum.panel === '30 mg SAD'"}], "mark": {"type": "point", "filled": true, "color": "#000000", "size": 85, "opacity": 1}, "encoding": {"x": {"field": "day", "type": "quantitative", "title": null, "axis": {"values": [1, 29, 57, 85, 113, 141, 169], "labelOverlap": false, "labelSeparation": -40}}, "y": {"field": "conc", "type": "quantitative", "title": null}}}
                 ]}
              ]}
            ]
          }
        ]
      },
      {
        "width": 1271, "height": 199,
        "data": {"values": [{"part": "footer"}]},
        "layer": [
          {"mark": {"type": "rect", "color": "#d9d9d9"}, "encoding": {"x": {"datum": 165, "type": "quantitative", "scale": {"domain": [9, 1280], "nice": false, "zero": false}, "axis": null}, "x2": {"datum": 183}, "y": {"datum": 538, "type": "quantitative", "scale": {"domain": [721.5, 522.5], "nice": false, "zero": false}, "axis": null}, "y2": {"datum": 554}}},
          {"mark": {"type": "rule", "color": "#000000", "strokeWidth": 2}, "encoding": {"x": {"datum": 168, "type": "quantitative", "scale": {"domain": [9, 1280], "nice": false, "zero": false}, "axis": null}, "x2": {"datum": 181}, "y": {"datum": 546, "type": "quantitative", "scale": {"domain": [721.5, 522.5], "nice": false, "zero": false}, "axis": null}}},
          {"mark": {"type": "text", "align": "left", "baseline": "middle", "font": "Liberation Sans", "fontSize": 9.4, "color": "#1a1a1a"}, "encoding": {"x": {"datum": 190, "type": "quantitative", "scale": {"domain": [9, 1280], "nice": false, "zero": false}, "axis": null}, "y": {"datum": 546, "type": "quantitative", "scale": {"domain": [721.5, 522.5], "nice": false, "zero": false}, "axis": null}, "text": {"value": "Estimated effect of weight on plasma volume - Mixture Lag or Transit"}}},
          {"mark": {"type": "text", "align": "left", "baseline": "middle", "font": "Liberation Sans", "fontSize": 9.55, "color": "#1a1a1a"}, "encoding": {"x": {"datum": 257, "type": "quantitative", "scale": {"domain": [9, 1280], "nice": false, "zero": false}, "axis": null}, "y": {"datum": 571, "type": "quantitative", "scale": {"domain": [721.5, 522.5], "nice": false, "zero": false}, "axis": null}, "text": {"value": "Simulations: Median [95%CI],  Observations: Mean ± SD, BLQ set as LLOQ/2"}}},
          {"mark": {"type": "rect", "color": "#d9d9d9"}, "encoding": {"x": {"datum": 165, "type": "quantitative", "scale": {"domain": [9, 1280], "nice": false, "zero": false}, "axis": null}, "x2": {"datum": 183}, "y": {"datum": 582, "type": "quantitative", "scale": {"domain": [721.5, 522.5], "nice": false, "zero": false}, "axis": null}, "y2": {"datum": 598}}},
          {"mark": {"type": "rule", "color": "#555555", "strokeWidth": 1, "strokeDash": [1.5, 2.5]}, "encoding": {"x": {"datum": 167, "type": "quantitative", "scale": {"domain": [9, 1280], "nice": false, "zero": false}, "axis": null}, "x2": {"datum": 182}, "y": {"datum": 590, "type": "quantitative", "scale": {"domain": [721.5, 522.5], "nice": false, "zero": false}, "axis": null}}},
          {"mark": {"type": "text", "align": "left", "baseline": "middle", "font": "Liberation Sans", "fontSize": 10.6, "fontWeight": "bold", "color": "#000000"}, "encoding": {"x": {"datum": 193, "type": "quantitative", "scale": {"domain": [9, 1280], "nice": false, "zero": false}, "axis": null}, "y": {"datum": 589, "type": "quantitative", "scale": {"domain": [721.5, 522.5], "nice": false, "zero": false}, "axis": null}, "text": {"value": "LLOQ = 0.5 ng/mL"}}},
          {"mark": {"type": "rect", "color": "#d9d9d9"}, "encoding": {"x": {"datum": 779, "type": "quantitative", "scale": {"domain": [9, 1280], "nice": false, "zero": false}, "axis": null}, "x2": {"datum": 797}, "y": {"datum": 544, "type": "quantitative", "scale": {"domain": [721.5, 522.5], "nice": false, "zero": false}, "axis": null}, "y2": {"datum": 559}}},
          {"mark": {"type": "rule", "color": "#000000", "strokeWidth": 2}, "encoding": {"x": {"datum": 782, "type": "quantitative", "scale": {"domain": [9, 1280], "nice": false, "zero": false}, "axis": null}, "x2": {"datum": 795}, "y": {"datum": 551.5, "type": "quantitative", "scale": {"domain": [721.5, 522.5], "nice": false, "zero": false}, "axis": null}}},
          {"mark": {"type": "text", "align": "left", "baseline": "middle", "font": "Liberation Sans", "fontSize": 9.4, "color": "#1a1a1a"}, "encoding": {"x": {"datum": 805, "type": "quantitative", "scale": {"domain": [9, 1280], "nice": false, "zero": false}, "axis": null}, "y": {"datum": 551.5, "type": "quantitative", "scale": {"domain": [721.5, 522.5], "nice": false, "zero": false}, "axis": null}, "text": {"value": "Estimated effect of weight on plasma volume - Mixture Lag or Transit"}}},
          {"mark": {"type": "text", "align": "left", "baseline": "middle", "font": "Liberation Sans", "fontSize": 9.55, "color": "#1a1a1a"}, "encoding": {"x": {"datum": 873, "type": "quantitative", "scale": {"domain": [9, 1280], "nice": false, "zero": false}, "axis": null}, "y": {"datum": 578, "type": "quantitative", "scale": {"domain": [721.5, 522.5], "nice": false, "zero": false}, "axis": null}, "text": {"value": "Simulations: Median [95%CI],  Observations: Mean ± SD, BLQ set as LLOQ/2"}}},
          {"mark": {"type": "rect", "color": "#d9d9d9"}, "encoding": {"x": {"datum": 779, "type": "quantitative", "scale": {"domain": [9, 1280], "nice": false, "zero": false}, "axis": null}, "x2": {"datum": 797}, "y": {"datum": 585, "type": "quantitative", "scale": {"domain": [721.5, 522.5], "nice": false, "zero": false}, "axis": null}, "y2": {"datum": 598}}},
          {"mark": {"type": "rule", "color": "#555555", "strokeWidth": 1, "strokeDash": [1.5, 2.5]}, "encoding": {"x": {"datum": 781, "type": "quantitative", "scale": {"domain": [9, 1280], "nice": false, "zero": false}, "axis": null}, "x2": {"datum": 796}, "y": {"datum": 591.5, "type": "quantitative", "scale": {"domain": [721.5, 522.5], "nice": false, "zero": false}, "axis": null}}},
          {"mark": {"type": "text", "align": "left", "baseline": "middle", "font": "Liberation Sans", "fontSize": 10.6, "fontWeight": "bold", "color": "#000000"}, "encoding": {"x": {"datum": 807, "type": "quantitative", "scale": {"domain": [9, 1280], "nice": false, "zero": false}, "axis": null}, "y": {"datum": 591, "type": "quantitative", "scale": {"domain": [721.5, 522.5], "nice": false, "zero": false}, "axis": null}, "text": {"value": "LLOQ = 0.25 ng/mL"}}},
          {"mark": {"type": "text", "align": "left", "baseline": "middle", "font": "Lato", "fontSize": 14.25, "color": "#000000"}, "encoding": {"x": {"datum": 61, "type": "quantitative", "scale": {"domain": [9, 1280], "nice": false, "zero": false}, "axis": null}, "y": {"datum": 631, "type": "quantitative", "scale": {"domain": [721.5, 522.5], "nice": false, "zero": false}, "axis": null}, "text": {"value": "Solid lines represent median and shaded areas represent 95% CI."}}},
          {"mark": {"type": "text", "align": "left", "baseline": "middle", "font": "Lato", "fontSize": 14.25, "color": "#000000"}, "encoding": {"x": {"datum": 61, "type": "quantitative", "scale": {"domain": [9, 1280], "nice": false, "zero": false}, "axis": null}, "y": {"datum": 651, "type": "quantitative", "scale": {"domain": [721.5, 522.5], "nice": false, "zero": false}, "axis": null}, "text": {"value": "Black dots represent observed data from clinical trial"}}},
          {"mark": {"type": "text", "align": "center", "baseline": "middle", "font": "Lato", "fontSize": 17, "color": "#ec8a2c"}, "encoding": {"x": {"datum": 662, "type": "quantitative", "scale": {"domain": [9, 1280], "nice": false, "zero": false}, "axis": null}, "y": {"datum": 634, "type": "quantitative", "scale": {"domain": [721.5, 522.5], "nice": false, "zero": false}, "axis": null}, "text": {"value": "•"}}},
          {"mark": {"type": "text", "align": "left", "baseline": "middle", "font": "Lato", "fontSize": 17.7, "color": "#000000"}, "encoding": {"x": {"datum": 683, "type": "quantitative", "scale": {"domain": [9, 1280], "nice": false, "zero": false}, "axis": null}, "y": {"datum": 634, "type": "quantitative", "scale": {"domain": [721.5, 522.5], "nice": false, "zero": false}, "axis": null}, "text": {"value": "CSF was drawn on Days 85 and 169 post single dose for STK-001 analyses"}}},
          {"mark": {"type": "text", "align": "right", "baseline": "middle", "font": "Lato", "fontSize": 12.5, "fontStyle": "italic", "color": "#7f7f7f"}, "encoding": {"x": {"datum": 1215, "type": "quantitative", "scale": {"domain": [9, 1280], "nice": false, "zero": false}, "axis": null}, "y": {"datum": 690, "type": "quantitative", "scale": {"domain": [721.5, 522.5], "nice": false, "zero": false}, "axis": null}, "text": {"value": "© Copyright 2021 Stoke Therapeutics"}}},
          {"mark": {"type": "rule", "color": "#e3a53b", "strokeWidth": 1.5}, "encoding": {"x": {"datum": 1232, "type": "quantitative", "scale": {"domain": [9, 1280], "nice": false, "zero": false}, "axis": null}, "y": {"datum": 677, "type": "quantitative", "scale": {"domain": [721.5, 522.5], "nice": false, "zero": false}, "axis": null}, "y2": {"datum": 703}}},
          {"mark": {"type": "text", "align": "left", "baseline": "middle", "font": "Lato", "fontSize": 14, "color": "#404040"}, "encoding": {"x": {"datum": 1246, "type": "quantitative", "scale": {"domain": [9, 1280], "nice": false, "zero": false}, "axis": null}, "y": {"datum": 690, "type": "quantitative", "scale": {"domain": [721.5, 522.5], "nice": false, "zero": false}, "axis": null}, "text": {"value": "16"}}}
        ]
      }
    ]
  }
]
}
